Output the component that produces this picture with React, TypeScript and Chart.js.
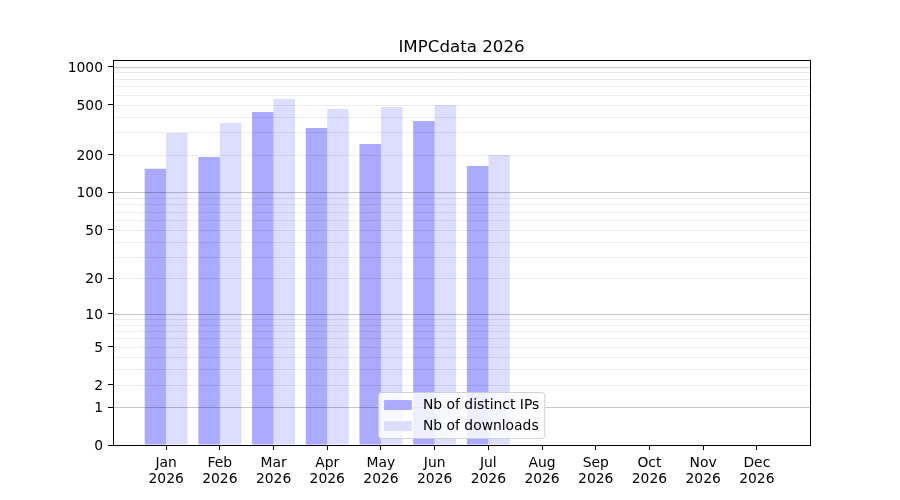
import React, { useEffect, useRef } from 'react';
import { Chart, Scale, registerables } from 'chart.js';

Chart.register(...registerables);

// ---- data ----
const monthNames = ['Jan', 'Feb', 'Mar', 'Apr', 'May', 'Jun', 'Jul', 'Aug', 'Sep', 'Oct', 'Nov', 'Dec'];
const yearLabel = '2026';
const ipsValues = [154, 191, 436, 325, 243, 370, 162];
const downloadsValues = [297, 357, 553, 461, 478, 496, 198];
const seriesLabels = ['Nb of distinct IPs', 'Nb of downloads'];
const yTickValues = [0, 1, 2, 5, 10, 20, 50, 100, 200, 500, 1000];
const majorGridValues = [1, 10, 100, 1000];
const minorMultipliers = [2, 3, 4, 5, 6, 7, 8, 9];
const minorDecades = [1, 10, 100];
const chartTitle = 'IMPCdata 2026';

// ---- style ----
const seriesColors = ['#aaaaff', '#ddddff'];
const FONT = '"DejaVu Sans", "Liberation Sans", sans-serif';
const TICK_SIZE = 13.89;
const TITLE_SIZE = 16.67;
const Y_MAX = 1129;
const X_MIN = -0.99;
const X_MAX = 11.99;

// symlog-like scale: pixel proportional to log10(1 + v)
class Log1pScale extends Scale {
  static id = 'log1p';
  static defaults = {};

  determineDataLimits() {
    const { min, max } = (this as any).getMinMax(true);
    const opts: any = this.options;
    (this as any).min = opts.min ?? Math.max(0, min);
    (this as any).max = opts.max ?? max;
  }

  buildTicks() {
    const self: any = this;
    return yTickValues.filter((v) => v >= self.min && v <= self.max).map((value) => ({ value }));
  }

  getLabelForValue(value: number) {
    return String(value);
  }

  configure() {
    super.configure();
    const self: any = this;
    self._sv = Math.log10(1 + self.min);
    self._vr = Math.log10(1 + self.max) - self._sv;
  }

  getPixelForValue(value: number) {
    const self: any = this;
    if (value === undefined || value === null || isNaN(value)) value = self.min;
    const t = (Math.log10(1 + Math.max(0, value)) - self._sv) / self._vr;
    return self.getPixelForDecimal(t);
  }

  getValueForPixel(pixel: number) {
    const self: any = this;
    const d = self.getDecimalForPixel(pixel);
    return Math.pow(10, self._sv + d * self._vr) - 1;
  }
}
Chart.register(Log1pScale as any);

const overlayPlugin = {
  id: 'overlay',
  afterDatasetsDraw(chart: any) {
    const { ctx, chartArea: a, scales } = chart;
    const ys = scales.y;
    ctx.save();
    ctx.lineWidth = 1;
    const minorValues = minorDecades.flatMap((d) => minorMultipliers.map((m) => m * d));
    ctx.strokeStyle = 'rgba(0,0,0,0.075)';
    minorValues.forEach((v) => {
      const py = Math.round(ys.getPixelForValue(v)) + 0.5;
      if (py < a.top || py > a.bottom) return;
      ctx.beginPath();
      ctx.moveTo(a.left, py);
      ctx.lineTo(a.right, py);
      ctx.stroke();
    });
    ctx.strokeStyle = 'rgba(0,0,0,0.22)';
    majorGridValues.forEach((v) => {
      const py = Math.round(ys.getPixelForValue(v)) + 0.5;
      if (py < a.top || py > a.bottom) return;
      ctx.beginPath();
      ctx.moveTo(a.left, py);
      ctx.lineTo(a.right, py);
      ctx.stroke();
    });
    ctx.restore();
  },
  afterDraw(chart: any) {
    const { ctx, chartArea: a } = chart;
    ctx.save();
    // frame
    ctx.strokeStyle = '#000';
    ctx.lineWidth = 1;
    ctx.strokeRect(Math.round(a.left) + 0.5, Math.round(a.top) + 0.5, Math.round(a.right - a.left), Math.round(a.bottom - a.top));
    // title
    ctx.fillStyle = '#000';
    ctx.font = `${TITLE_SIZE}px ${FONT}`;
    ctx.textAlign = 'center';
    ctx.textBaseline = 'alphabetic';
    ctx.fillText(chartTitle, (a.left + a.right) / 2, a.top - 8);
    // legend
    const em = TICK_SIZE;
    ctx.font = `${em}px ${FONT}`;
    const pad = 0.4 * em;
    const handleW = 2 * em;
    const textPad = 0.8 * em;
    const rowH = 14;
    const rowGap = 0.5 * em;
    const textW = Math.max(...seriesLabels.map((s) => ctx.measureText(s).width));
    const boxW = pad + handleW + textPad + textW + pad;
    const boxH = 2 * pad + seriesLabels.length * rowH + (seriesLabels.length - 1) * rowGap;
    const cx = (a.left + a.right) / 2;
    const bx = Math.round(cx - boxW / 2) + 0.5;
    const by = Math.round(a.bottom - 0.5 * em - boxH) + 0.5;
    ctx.beginPath();
    const r = 3;
    ctx.moveTo(bx + r, by);
    ctx.lineTo(bx + boxW - r, by);
    ctx.quadraticCurveTo(bx + boxW, by, bx + boxW, by + r);
    ctx.lineTo(bx + boxW, by + boxH - r);
    ctx.quadraticCurveTo(bx + boxW, by + boxH, bx + boxW - r, by + boxH);
    ctx.lineTo(bx + r, by + boxH);
    ctx.quadraticCurveTo(bx, by + boxH, bx, by + boxH - r);
    ctx.lineTo(bx, by + r);
    ctx.quadraticCurveTo(bx, by, bx + r, by);
    ctx.closePath();
    ctx.fillStyle = 'rgba(255,255,255,0.8)';
    ctx.fill();
    ctx.strokeStyle = 'rgba(204,204,204,0.9)';
    ctx.stroke();
    seriesLabels.forEach((label, i) => {
      const rowMid = by + pad + i * (rowH + rowGap) + rowH / 2;
      ctx.fillStyle = seriesColors[i];
      ctx.fillRect(bx + pad, rowMid - 5, handleW, 10);
      ctx.fillStyle = '#000';
      ctx.textAlign = 'left';
      ctx.textBaseline = 'middle';
      ctx.fillText(label, bx + pad + handleW + textPad, rowMid);
    });
    ctx.restore();
  },
};

export default function App() {
  const ref = useRef<HTMLCanvasElement | null>(null);
  useEffect(() => {
    if (!ref.current) return;
    const datasets = [ipsValues, downloadsValues].map((vals, si) => ({
      label: seriesLabels[si],
      data: vals.map((v, i) => ({ x: i, y: v })),
      backgroundColor: seriesColors[si],
      borderWidth: 0,
      categoryPercentage: 0.8,
      barPercentage: 1.0,
    }));
    const chart = new Chart(ref.current, {
      type: 'bar',
      data: { datasets },
      plugins: [overlayPlugin],
      options: {
        animation: false,
        responsive: false,
        events: [],
        layout: { padding: { left: 0, top: 60, right: 90, bottom: 0 } },
        plugins: {
          legend: { display: false },
          tooltip: { enabled: false },
          title: { display: false },
        },
        scales: {
          x: {
            type: 'linear',
            min: X_MIN,
            max: X_MAX,
            offset: false,
            afterBuildTicks: (scale: any) => {
              scale.ticks = monthNames.map((_, i) => ({ value: i }));
            },
            afterFit: (scale: any) => {
              scale.height = 55;
            },
            ticks: {
              autoSkip: false,
              maxRotation: 0,
              minRotation: 0,
              padding: 5,
              color: '#000',
              font: { family: FONT, size: TICK_SIZE, lineHeight: 1.15 },
              callback: (value: any) => [monthNames[Math.round(value)], yearLabel],
            },
            grid: {
              offset: false,
              drawOnChartArea: false,
              drawTicks: true,
              tickLength: 5,
              tickColor: '#000',
              tickWidth: 1,
            },
            border: { display: true, color: '#000', width: 1 },
          },
          y: {
            type: 'log1p' as any,
            min: 0,
            max: Y_MAX,
            afterFit: (scale: any) => {
              scale.width = 113;
            },
            ticks: {
              autoSkip: false,
              padding: 5,
              labelOffset: 1.5,
              color: '#000',
              font: { family: FONT, size: TICK_SIZE },
              callback: (value: any) => String(value),
            },
            grid: {
              drawOnChartArea: false,
              drawTicks: true,
              tickLength: 5,
              tickColor: '#000',
              tickWidth: 1,
            },
            border: { display: true, color: '#000', width: 1 },
          } as any,
        },
      } as any,
    });
    return () => chart.destroy();
  }, []);
  return (
    <div style={{ position: 'fixed', left: 0, top: 0, width: 900, height: 500, background: '#fff' }}>
      <canvas ref={ref} width={900} height={500} style={{ display: 'block' }} />
    </div>
  );
}
